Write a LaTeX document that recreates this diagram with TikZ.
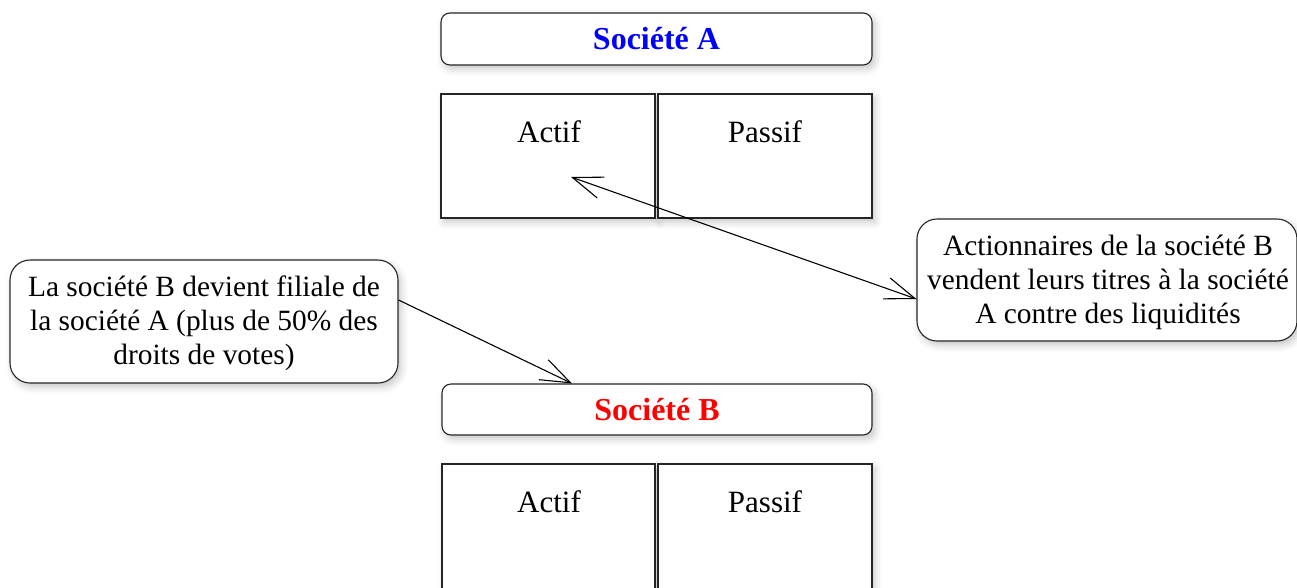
\documentclass[tikz,border=0pt]{standalone}
\usepackage{fontspec}
\setmainfont{Liberation Serif}
\usetikzlibrary{arrows.meta,shadows.blur}

\tikzset{
  soft/.style={blur shadow={shadow xshift=3pt, shadow yshift=-4pt,
      shadow blur radius=7pt, shadow opacity=22}},
  frame/.style={draw=black!85, line width=1.1pt, fill=white, inner sep=0pt, soft},
  titlebox/.style={frame, rounded corners=9pt},
  cell/.style={frame},
  callout/.style={frame, rounded corners=20pt},
  titletext/.style={font=\fontsize{32}{38}\selectfont\bfseries},
  celltext/.style={font=\fontsize{31}{36}\selectfont},
  calltext/.style={font=\fontsize{29.4}{34}\selectfont, align=center},
  link/.style={draw=black, line width=1.1pt},
  barb/.tip={Straight Barb[length=30pt, width=22pt, line width=1.1pt]},
}

\begin{document}
\begin{tikzpicture}[x=1pt, y=-1pt]
  \useasboundingbox (0,0) rectangle (1297,587);

  % Company A: title and balance sheet
  \node[titlebox, minimum width=431pt, minimum height=52pt] (socA) at (656.5,39) {};
  \node[titletext, text=blue] (socAt) at (656.5,39) {Société A};
  \node[cell, minimum width=214pt, minimum height=124pt] (actA) at (548,156) {};
  \node[cell, minimum width=214pt, minimum height=124pt] (pasA) at (765,156) {};
  \node[celltext] (actAt) at (549,132) {Actif};
  \node[celltext] (pasAt) at (765,132) {Passif};
  \coordinate (tipA) at (571,177);

  % Company B: title and balance sheet
  \node[titlebox, minimum width=430pt, minimum height=51pt] (socB) at (657,409.5) {};
  \node[titletext, text=red] (socBt) at (657,409.5) {Société B};
  \node[cell, minimum width=213pt, minimum height=150pt] (actB) at (548.5,539) {};
  \node[cell, minimum width=214pt, minimum height=150pt] (pasB) at (765,539) {};
  \node[celltext] (actBt) at (549,502) {Actif};
  \node[celltext] (pasBt) at (765,502) {Passif};

  % Explanatory callouts
  \node[callout, minimum width=388pt, minimum height=123pt] (callL) at (204,321.5) {};
  \node[calltext] (callLt) at (204,323.5)
    {La société B devient filiale de\\la société A (plus de 50\% des\\droits de votes)};
  \node[callout, minimum width=380pt, minimum height=122pt] (callR) at (1107,280) {};
  \node[calltext] (callRt) at (1108,282)
    {Actionnaires de la société B\\vendent leurs titres à la société\\A contre des liquidités};

  % Connectors
  \draw[link, barb-barb] (tipA) -- ([yshift=-19pt]callR.west);
  \draw[link, -barb] ([yshift=21.5pt]callL.east) -- ([xshift=-85pt]socB.north);
\end{tikzpicture}
\end{document}
